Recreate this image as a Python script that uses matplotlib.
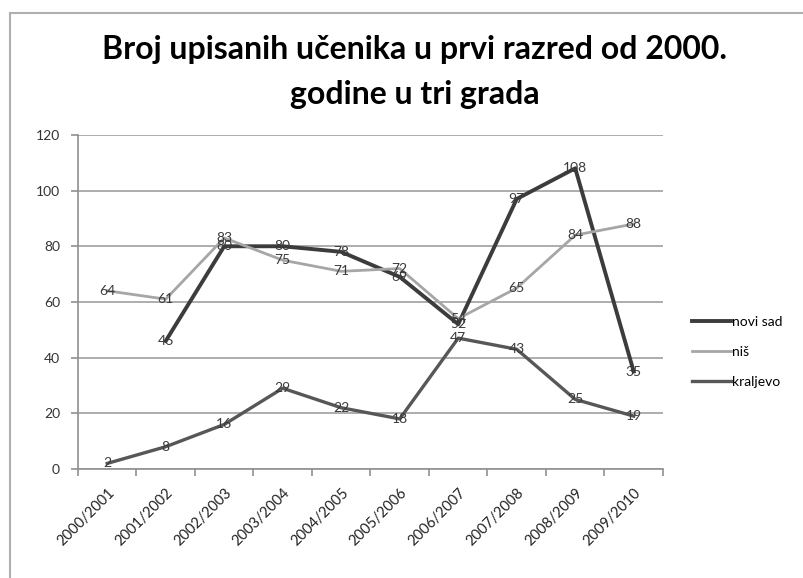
import numpy as np
import matplotlib
matplotlib.use("Agg")
from matplotlib import pyplot as plt
from matplotlib.lines import Line2D
from matplotlib.transforms import ScaledTranslation

plt.rcParams['font.family'] = ['Lato', 'DejaVu Sans']

years = ["2000/2001", "2001/2002", "2002/2003", "2003/2004", "2004/2005",
         "2005/2006", "2006/2007", "2007/2008", "2008/2009", "2009/2010"]
novi_sad = [np.nan, 46, 80, 80, 78, 69, 52, 97, 108, 35]
nis = [64, 61, 83, 75, 71, 72, 54, 65, 84, 88]
kraljevo = [2, 8, 16, 29, 22, 18, 47, 43, 25, 19]

fig = plt.figure(figsize=(8.04, 5.78), dpi=100)
ax = fig.add_axes([0.097, 0.1886, 0.7276, 0.578])

x = np.arange(len(years))
series = [
    ("novi sad", novi_sad, "#3c3c3c", 2.8),
    ("niš", nis, "#a6a6a6", 2.0),
    ("kraljevo", kraljevo, "#575757", 2.4),
]
for name, vals, col, lw in series:
    ax.plot(x, vals, color=col, lw=lw, label=name, zorder=3)
    for xi, v in zip(x, vals):
        if np.isnan(v):
            continue
        ax.text(xi, v, f"{v:.0f}", ha="center", va="center", fontsize=10,
                color="#3a3a3a", zorder=4)

ax.set_xlim(-0.5, 9.5)
ax.set_ylim(0, 120)
ax.set_yticks(range(0, 121, 20))
ax.yaxis.grid(True, color="#a0a0a0", lw=1.2)
ax.set_axisbelow(True)

ax.set_xticks(x)
ax.set_xticklabels(years, rotation=45, ha="right", rotation_mode="anchor",
                   fontsize=10.5, color="#222222")
# nudge the slanted labels left, like the original
shift = ScaledTranslation(-10.5 / 72, 0, fig.dpi_scale_trans)
for lab in ax.get_xticklabels():
    lab.set_transform(lab.get_transform() + shift)
ax.set_xticks(np.arange(-0.5, 10, 1), minor=True)
ax.tick_params(axis="x", which="major", length=0, pad=12)
ax.tick_params(axis="x", which="minor", length=5, color="#909090", width=1.2)
ax.tick_params(axis="y", length=5, color="#909090", width=1.2,
               labelsize=10, labelcolor="#333333", pad=8)

for s in ["top", "right"]:
    ax.spines[s].set_visible(False)
for s in ["left", "bottom"]:
    ax.spines[s].set_color("#909090")
    ax.spines[s].set_linewidth(1.2)

handles = [Line2D([0], [0], color=c, lw=lw) for _, _, c, lw in series]
fig.legend(handles, [s[0] for s in series], loc="upper left",
           bbox_to_anchor=(0.845, 0.475), frameon=False, fontsize=10,
           handlelength=2.8, handletextpad=0.1, labelspacing=1.3)

fig.text(0.516, 0.915, "Broj upisanih učenika u prvi razred od 2000.",
         ha="center", va="center", fontsize=23, fontweight="bold")
fig.text(0.516, 0.836, "godine u tri grada",
         ha="center", va="center", fontsize=23, fontweight="bold")

# outer chart frame
fig.add_artist(Line2D([0.0125, 0.0125], [0, 0.978], color="#b0b0b0", lw=1.5))
fig.add_artist(Line2D([0.0125, 1], [0.978, 0.978], color="#b0b0b0", lw=1.5))

fig.savefig("out.png", dpi=100)
